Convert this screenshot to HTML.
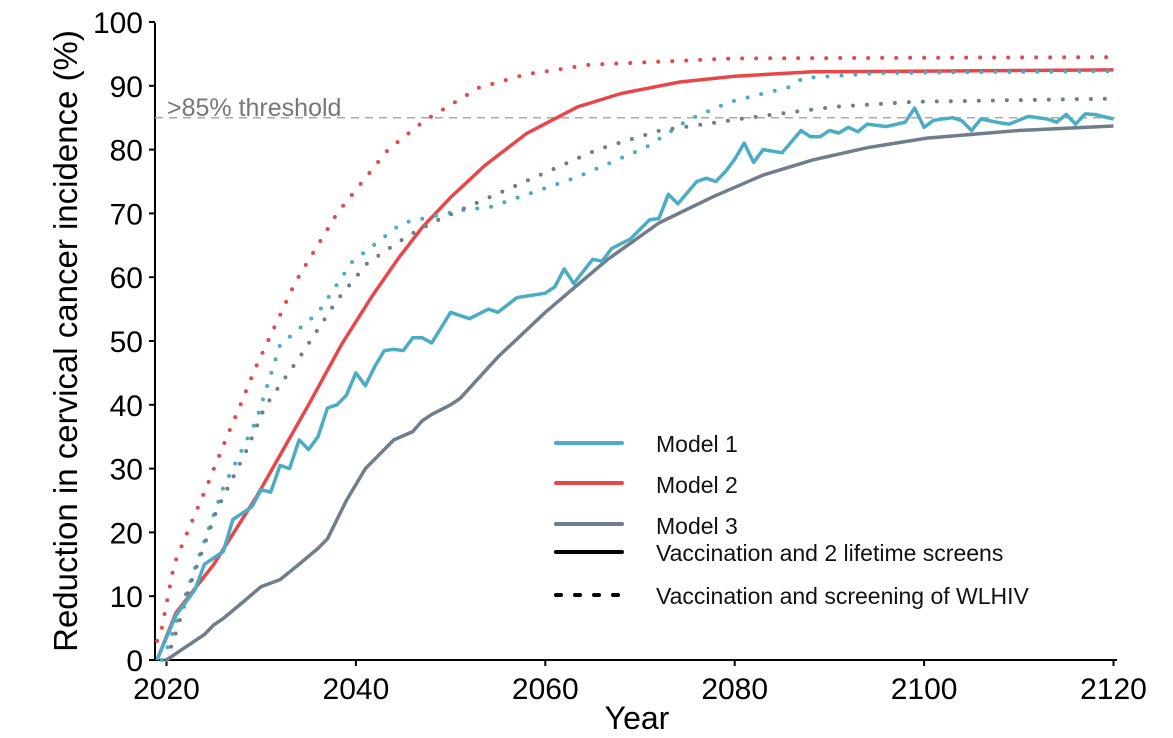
<!DOCTYPE html>
<html><head><meta charset="utf-8"><style>
html,body{margin:0;padding:0;background:#fff}
svg{display:block;font-family:"Liberation Sans",Arial,sans-serif}
</style></head><body>
<svg id="c" width="1173" height="738" viewBox="0 0 1173 738" xmlns="http://www.w3.org/2000/svg">
<line x1="155" y1="23" x2="155" y2="661" stroke="#000" stroke-width="2"/>
<line x1="154" y1="660" x2="1117" y2="660" stroke="#000" stroke-width="2"/>
<g id="ticks"></g>
<line x1="155" y1="117.7" x2="1117" y2="117.7" stroke="#aaa" stroke-width="1.5" stroke-dasharray="8 6"/>
<text x="167" y="116" font-size="25" fill="#777">&gt;85% threshold</text>
<g id="series" fill="none" stroke-linejoin="round"></g>
<text transform="translate(77,341) rotate(-90)" text-anchor="middle" font-size="33" fill="#000">Reduction in cervical cancer incidence (%)</text>
<text x="637" y="729" text-anchor="middle" font-size="32" fill="#000">Year</text>
<g stroke-width="4" stroke-linecap="round">
<line x1="556" y1="443" x2="622" y2="443" stroke="#4bacc6"/>
<line x1="556" y1="483" x2="622" y2="483" stroke="#e8474a"/>
<line x1="556" y1="524" x2="622" y2="524" stroke="#6f7d8c"/>
<line x1="556" y1="552" x2="622" y2="552" stroke="#000"/>
<line x1="556" y1="595" x2="622" y2="595" stroke="#000" stroke-dasharray="5 14"/>
</g>
<g font-size="23" fill="#111">
<text x="656" y="452">Model 1</text>
<text x="656" y="493">Model 2</text>
<text x="656" y="534">Model 3</text>
<text x="656" y="561">Vaccination and 2 lifetime screens</text>
<text x="656" y="604">Vaccination and screening of WLHIV</text>
</g>
</svg>
<script>
var X=function(y){return 166.5+(y-2020)*9.47},Y=function(v){return 660-v*6.38};
var t=document.getElementById('ticks'),h='';
for(var v=0;v<=100;v+=10){h+='<line x1="149" x2="155" y1="'+Y(v)+'" y2="'+Y(v)+'" stroke="#000" stroke-width="2"/><text x="143" y="'+(Y(v)+11)+'" text-anchor="end" font-size="30">'+v+'</text>';}
for(var y=2020;y<=2120;y+=20){h+='<line y1="660" y2="666" x1="'+X(y)+'" x2="'+X(y)+'" stroke="#000" stroke-width="2"/><text y="699" x="'+X(y)+'" text-anchor="middle" font-size="30">'+y+'</text>';}
t.innerHTML=h;
function P(a){var s='';for(var i=0;i<a.length;i+=2)s+=(i?'L':'M')+X(a[i]).toFixed(1)+' '+Y(a[i+1]).toFixed(1);return s;}
var S=[
['#e8474a',0,[2019,0,2021,7.4,2025,15,2029.5,25.6,2035,40,2038.5,49.5,2041.7,57,2044.5,63,2047,67.8,2050,72.5,2053.6,77.5,2058,82.5,2063.4,86.7,2068,88.8,2074.2,90.6,2080,91.5,2088.3,92.2,2120,92.5]],
['#e8474a',1,[2019,3,2019.5,5,2020.8,15,2022.2,20,2024.2,27,2026.1,34,2028,40.7,2029.3,45.5,2033.6,59.2,2038,70,2043.4,80,2047.3,84.6,2053,89.7,2058,91.8,2064.7,93.3,2080,94.3,2120,94.5]],
['#4bacc6',1,[2019.5,0,2020.2,2.3,2021.5,8,2023.5,16.5,2026,27,2029.5,37.6,2032,49.4,2036,54.4,2039.6,62.4,2044.9,68.5,2051.2,70.5,2054.2,71,2063.4,75.7,2070.7,80.4,2075,84.6,2079.5,87.5,2085.8,89.8,2087.2,91.2,2095.3,92,2120,92.3]],
['#6f7d8c',1,[2020,0,2021.1,4.7,2022.5,11.8,2025.3,23.5,2028.5,33,2030.4,39.7,2034.3,48,2038,56.4,2041.2,62.2,2045.4,66.4,2048.4,68.8,2053,71.8,2065.5,80,2072.1,83,2082,85.1,2090.4,86.7,2098.9,87.5,2120,88]],
['#6f7d8c',0,[2020,0,2022,2,2024,4,2025,5.5,2026,6.5,2028,9,2030,11.5,2032,12.6,2034,15,2036,17.5,2037,19,2039,25,2041,30,2043,33,2044,34.5,2046,35.8,2047,37.5,2048,38.5,2050,40,2051,41,2055,47.5,2060,54.5,2066.5,62.7,2072,68.5,2077.7,72.6,2083,76,2088.3,78.4,2094,80.3,2100.3,81.8,2110,83,2120,83.7]],
['#4bacc6',0,[2019,0,2021,7,2023,11,2024,15,2026,17,2027,22,2029,24,2030,26.7,2031,26.3,2032,30.5,2033,30,2034,34.5,2035,33,2036,35,2037,39.5,2038,40,2039,41.5,2040,45,2041,43,2042,46,2043,48.5,2044,48.7,2045,48.5,2046,50.5,2047,50.5,2048,49.7,2050,54.5,2052,53.5,2054,55,2055,54.5,2057,56.8,2060,57.5,2061,58.5,2062,61.3,2063,59,2065,62.8,2066,62.5,2067,64.5,2069,66,2071,69,2072,69.2,2073,73,2074,71.5,2076,75,2077,75.5,2078,75,2079,76.5,2080,78.5,2081,81,2082,78,2083,80,2085,79.5,2087,83,2088,82,2089,82,2090,83,2091,82.6,2092,83.5,2093,82.8,2094,84,2096,83.6,2098,84.3,2099,86.5,2100,83.5,2101,84.6,2103,85,2104,84.5,2105,83,2106,84.8,2108,84.2,2109,84,2111,85.2,2113,84.8,2114,84.3,2115,85.5,2116,84,2117,85.6,2118,85.5,2120,84.8]]
];
var g='';S.forEach(function(s){g+='<path d="'+P(s[2])+'" stroke="'+s[0]+'" stroke-width="'+(s[1]?4:3.5)+'"'+(s[1]?' stroke-linecap="round" stroke-dasharray="0 14"':'')+'/>';});
document.getElementById('series').innerHTML=g;
</script>
</body></html>
